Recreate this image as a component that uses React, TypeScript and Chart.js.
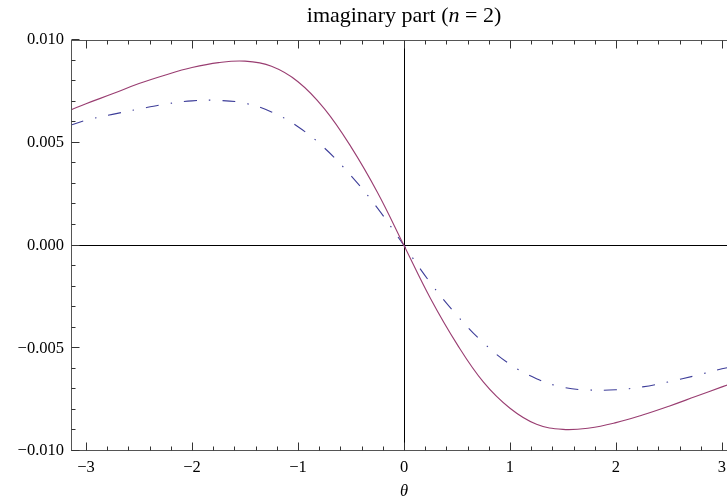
import { useEffect, useRef } from 'react';
import { Chart, registerables } from 'chart.js';

Chart.register(...registerables);

// ---- data ----
const theta = [-3.1416, -3, -2.75, -2.5, -2.25, -2, -1.75, -1.5, -1.25, -1, -0.75, -0.5, -0.25, 0,
  0.25, 0.5, 0.75, 1, 1.25, 1.5, 1.75, 2, 2.25, 2.5, 2.75, 3, 3.1416];

const solidSeries = [0.0066, 0.0069, 0.00738, 0.00788, 0.0083, 0.00866, 0.0089, 0.00897, 0.00872, 0.00797,
  0.00665, 0.0048, 0.00258, 0,
  -0.00258, -0.0048, -0.00665, -0.00792, -0.0087, -0.00895, -0.00888, -0.00862, -0.00825, -0.00782,
  -0.00735, -0.00688, -0.00662];

const dashSeries = [0.00586, 0.0061, 0.00638, 0.00664, 0.00688, 0.00704, 0.00706, 0.00692, 0.0065, 0.00578,
  0.00474, 0.0034, 0.00182, 0,
  -0.00182, -0.0034, -0.00474, -0.00578, -0.00648, -0.0069, -0.00703, -0.00702, -0.00688, -0.00663,
  -0.00633, -0.006, -0.00586];

const xMajorTicks = [-3, -2, -1, 0, 1, 2, 3];
const yMajorTicks = [-0.01, -0.005, 0, 0.005, 0.01];
const xMinorPerMajor = 5;
const yMinorPerMajor = 5;

const titleParts = [
  { text: 'imaginary part (', italic: false },
  { text: 'n', italic: true },
  { text: ' = 2)', italic: false },
];
const xTitle = 'θ';

const FAMILY = '"Liberation Serif", "Times New Roman", serif';

function minorValues(majors: number[], per: number): number[] {
  const out: number[] = [];
  for (let i = 0; i < majors.length - 1; i++) {
    const a = majors[i], b = majors[i + 1];
    for (let k = 0; k < per; k++) out.push(a + ((b - a) * k) / per);
  }
  out.push(majors[majors.length - 1]);
  return out;
}

const xTickValues = minorValues(xMajorTicks, xMinorPerMajor);
const yTickValues = minorValues(yMajorTicks, yMinorPerMajor);

const isMajor = (v: number, majors: number[]) =>
  majors.some((m) => Math.abs(m - v) < 1e-9);

const fmtMinus = (s: string) => s.replace('-', '\u2212');

const framePlugin = {
  id: 'mmaFrame',
  beforeDatasetsDraw(chart: any) {
    const { ctx, chartArea: a, scales } = chart;
    const x0 = Math.round(scales.x.getPixelForValue(0)) + 0.5;
    const y0 = Math.round(scales.y.getPixelForValue(0)) - 0.5;
    ctx.save();
    ctx.strokeStyle = '#000';
    ctx.lineWidth = 1;
    ctx.beginPath();
    ctx.moveTo(a.left, y0);
    ctx.lineTo(a.right, y0);
    ctx.moveTo(x0, a.top);
    ctx.lineTo(x0, a.bottom);
    ctx.stroke();
    ctx.restore();
  },
  afterDatasetsDraw(chart: any) {
    const { ctx, chartArea: a, scales } = chart;
    const L = Math.round(a.left) + 0.5;
    const R = Math.round(a.right) - 0.5;
    const T = Math.round(a.top) + 0.5;
    const B = Math.round(a.bottom) - 0.5;
    ctx.save();
    ctx.lineWidth = 1;
    ctx.strokeStyle = '#555';
    ctx.strokeRect(L, T, R - L, B - T);
    ctx.strokeStyle = '#333';
    ctx.beginPath();
    for (const t of scales.x.ticks) {
      const px = Math.round(scales.x.getPixelForValue(t.value)) + 0.5;
      const len = isMajor(t.value, xMajorTicks) ? 8 : 4;
      ctx.moveTo(px, B);
      ctx.lineTo(px, B - len);
      ctx.moveTo(px, T);
      ctx.lineTo(px, T + len);
    }
    for (const t of scales.y.ticks) {
      const py = Math.round(scales.y.getPixelForValue(t.value)) - 0.5;
      const len = isMajor(t.value, yMajorTicks) ? 8 : 4;
      ctx.moveTo(L, py);
      ctx.lineTo(L + len, py);
      ctx.moveTo(R, py);
      ctx.lineTo(R - len, py);
    }
    ctx.stroke();
    ctx.restore();
  },
  afterDraw(chart: any) {
    const { ctx, chartArea: a } = chart;
    ctx.save();
    ctx.fillStyle = '#000';
    ctx.textBaseline = 'alphabetic';
    const size = 22;
    const fonts = titleParts.map((p) => `${p.italic ? 'italic ' : ''}${size}px ${FAMILY}`);
    const widths = titleParts.map((p, i) => {
      ctx.font = fonts[i];
      return ctx.measureText(p.text).width;
    });
    const total = widths.reduce((s, w) => s + w, 0);
    let x = (a.left + a.right) / 2 - total / 2;
    titleParts.forEach((p, i) => {
      ctx.font = fonts[i];
      ctx.textAlign = 'left';
      ctx.fillText(p.text, x, 22);
      x += widths[i];
    });
    ctx.font = `italic 16.5px ${FAMILY}`;
    ctx.textAlign = 'center';
    ctx.textBaseline = 'middle';
    ctx.fillText(xTitle, (a.left + a.right) / 2, 492);
    ctx.restore();
  },
};

export default function App() {
  const ref = useRef<HTMLCanvasElement | null>(null);

  useEffect(() => {
    if (!ref.current) return;
    const chart = new Chart(ref.current, {
      type: 'line',
      data: {
        datasets: [
          {
            label: 'solid',
            data: theta.map((t, i) => ({ x: t, y: solidSeries[i] })),
            borderColor: '#993D71',
            borderWidth: 1.1,
            pointRadius: 0,
            fill: false,
            tension: 0.4,
          },
          {
            label: 'dashdot',
            data: theta.map((t, i) => ({ x: t, y: dashSeries[i] })),
            borderColor: '#3D3D99',
            borderWidth: 1.1,
            borderDash: [13, 12, 1.5, 12],
            pointRadius: 0,
            fill: false,
            tension: 0.4,
          },
        ],
      },
      options: {
        responsive: false,
        animation: false,
        events: [],
        layout: { padding: { top: 40, right: 23, left: 0, bottom: 0 } },
        plugins: {
          legend: { display: false },
          tooltip: { enabled: false },
          title: { display: false },
        },
        scales: {
          x: {
            type: 'linear',
            min: -Math.PI,
            max: Math.PI,
            grid: { display: false, drawTicks: false },
            border: { display: false },
            afterBuildTicks: (s: any) => {
              s.ticks = xTickValues.map((v) => ({ value: v }));
            },
            afterFit: (s: any) => {
              s.height = 51;
            },
            ticks: {
              autoSkip: false,
              maxRotation: 0,
              minRotation: 0,
              padding: 7,
              color: '#000',
              font: { family: FAMILY, size: 16.5 },
              callback: (v: any) => {
                const n = Number(v);
                if (!isMajor(n, xMajorTicks)) return '';
                return fmtMinus(String(Math.round(n)));
              },
            },
          },
          y: {
            type: 'linear',
            min: -0.01,
            max: 0.01,
            grid: { display: false, drawTicks: false },
            border: { display: false },
            afterBuildTicks: (s: any) => {
              s.ticks = yTickValues.map((v) => ({ value: v }));
            },
            afterFit: (s: any) => {
              s.width = 71;
            },
            ticks: {
              autoSkip: false,
              padding: 7,
              color: '#000',
              font: { family: FAMILY, size: 16.5 },
              callback: (v: any) => {
                const n = Number(v);
                if (!isMajor(n, yMajorTicks)) return '';
                const s = Math.abs(n).toFixed(3);
                return n < -1e-12 ? '\u2212' + s : s;
              },
            },
          },
        },
      },
      plugins: [framePlugin],
    });
    return () => chart.destroy();
  }, []);

  return (
    <div style={{ position: 'fixed', left: 0, top: 0, width: 727, height: 502, overflow: 'hidden', background: '#fff' }}>
      <canvas ref={ref} width={760} height={502} style={{ display: 'block' }} />
    </div>
  );
}
